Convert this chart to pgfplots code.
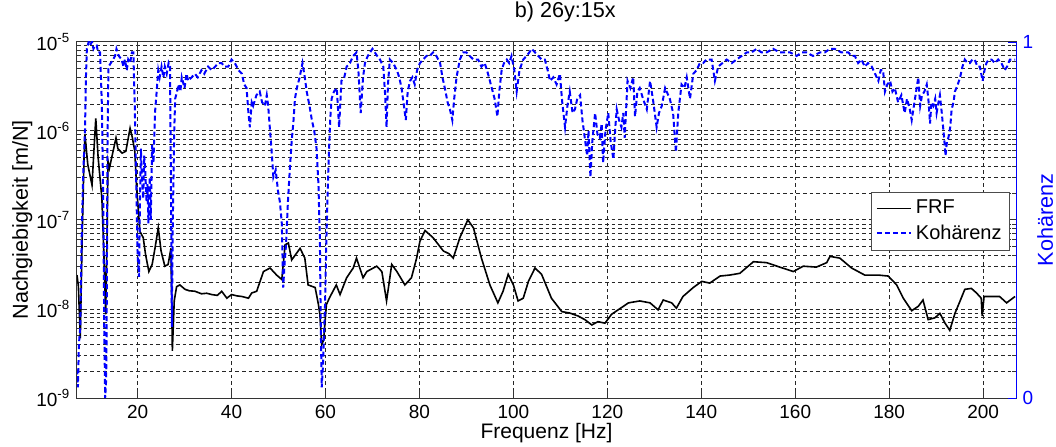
\documentclass[border=0pt]{standalone}
\usepackage{fontspec}
\setmainfont{Liberation Sans}
\usepackage{pgfplots}
\pgfplotsset{compat=1.18}
\begin{document}
\fontsize{9.5}{11}\selectfont
\begin{tikzpicture}
\path[use as bounding box] (-38.5pt,-24pt) rectangle (489.5pt,199pt);
\begin{axis}[
  scale only axis, width=469.5pt, height=178.15pt,
  xmin=7.1, xmax=207, ymode=log, ymin=1e-9, ymax=1e-5,
  xtick={20,40,60,80,100,120,140,160,180,200},
  xticklabels={20,40,60,80,100,120,140,160,180,200},
  ytick={1e-9,1e-8,1e-7,1e-6,1e-5},
  yticklabels={10\textsuperscript{-9},10\textsuperscript{-8},10\textsuperscript{-7},10\textsuperscript{-6},10\textsuperscript{-5}},
  /pgf/number format/assume math mode=true,
  xmajorgrids, ymajorgrids, yminorgrids,
  major grid style={black!85, line width=0.4pt, dash pattern=on 1.8pt off 1.5pt},
  minor grid style={black!85, line width=0.4pt, dash pattern=on 1.8pt off 1.5pt},
  tick align=inside,
  major tick length=4pt, minor tick length=2pt,
  axis line style={black!80, line width=0.5pt},
  tick style={black!80, line width=0.4pt},
  xticklabel style={font=\fontsize{9.5}{11}\selectfont},
  yticklabel style={font=\fontsize{9.5}{11}\selectfont},
  xlabel={Frequenz [Hz]},
  xlabel style={at={(axis description cs:0.5,0)}, anchor=base, yshift=-20pt, font=\fontsize{10.5}{12}\selectfont},
  ylabel={Nachgiebigkeit [m/N]},
  ylabel style={at={(axis description cs:-0.0522,0.5)}, anchor=base, font=\fontsize{10.8}{12}\selectfont},
  title={b) 26y:15x},
  title style={at={(axis description cs:0.52,1)}, anchor=base, yshift=5.9pt, font=\fontsize{10.8}{12}\selectfont},
]
\addplot[black, line width=0.8pt] coordinates {
(7.1,2.40e-8) (7.4,1.78e-8) (7.8,4.68e-9) (8.2,6.31e-8) (8.6,5.01e-7) (8.8,8.91e-7)
(9.4,4.17e-7) (10.3,2.45e-7) (10.7,6.0e-7) (11.1,1.38e-6) (11.6,5.0e-7) (12.4,1.74e-7)
(12.9,3.16e-8) (13.2,8.71e-9) (13.5,6.31e-8) (13.7,4.57e-7) (14.0,3.80e-7)
(15.4,8.32e-7) (15.8,6.31e-7) (16.7,5.62e-7) (17.5,5.89e-7) (18.4,1.07e-6)
(18.9,8.32e-7) (19.4,5.89e-7) (19.8,2.29e-7) (20.5,7.41e-8) (21.2,6.31e-8)
(21.7,4.07e-8) (22.4,2.63e-8) (23.1,3.16e-8) (23.7,4.79e-8) (24.4,8.13e-8)
(25.0,4.47e-8) (25.8,3.02e-8) (26.5,3.16e-8) (27.1,4.79e-8) (27.4,3.39e-9)
(27.8,1.23e-8) (28.3,1.78e-8) (29.0,1.86e-8) (30.1,1.66e-8) (31.0,1.60e-8)
(32.2,1.58e-8) (33.6,1.48e-8) (34.7,1.50e-8) (35.8,1.45e-8) (37.0,1.42e-8)
(37.9,1.58e-8) (39.0,1.32e-8) (40.0,1.45e-8) (41.2,1.40e-8) (42.2,1.38e-8)
(43.6,1.32e-8) (44.3,1.51e-8) (45.35,1.58e-8) (46.8,2.63e-8) (48.2,2.88e-8)
(49.6,2.40e-8) (50.7,2.14e-8) (51.4,5.25e-8) (52.1,5.50e-8) (52.8,3.55e-8)
(54.6,4.79e-8) (55.6,3.72e-8) (56.3,1.86e-8) (57.8,1.74e-8) (58.5,1.12e-8)
(58.8,8.71e-9) (59.2,3.98e-9) (59.6,4.47e-9) (60.2,1.12e-8) (60.9,1.35e-8)
(62.3,1.86e-8) (63.1,1.45e-8) (64.5,2.24e-8) (65.9,2.88e-8) (66.6,3.72e-8)
(67.3,2.88e-8) (68.0,2.24e-8) (68.8,2.63e-8) (70.9,3.02e-8) (72.0,2.63e-8)
(73.0,1.23e-8) (74.1,3.16e-8) (75.2,2.63e-8) (76.9,1.86e-8) (78.3,2.24e-8)
(79.4,3.72e-8) (80.1,5.75e-8) (81.2,7.59e-8) (82.9,6.31e-8) (85.1,4.47e-8)
(86.3,4.17e-8) (87.2,3.72e-8) (88.6,6.31e-8) (90.3,1.00e-7) (91.5,8.13e-8)
(93.2,3.72e-8) (95.0,1.86e-8) (96.7,1.17e-8) (97.8,1.58e-8) (98.9,2.45e-8)
(100.0,1.86e-8) (101.0,1.23e-8) (102.1,1.32e-8) (103.2,2.04e-8) (104.6,2.88e-8)
(106.0,2.45e-8) (108.1,1.32e-8) (110.3,9.33e-9) (112.0,9.0e-9) (113.8,8.32e-9)
(115.2,7.6e-9) (116.7,6.61e-9) (118.0,7.2e-9) (119.5,6.92e-9) (120.9,8.71e-9)
(122.3,9.77e-9) (124.5,1.17e-8) (126.9,1.23e-8) (129.1,1.17e-8) (130.8,9.77e-9)
(131.9,1.26e-8) (133.7,1.17e-8) (134.7,1.02e-8) (136.1,1.38e-8) (138.3,1.74e-8)
(140.1,2.04e-8) (141.8,1.95e-8) (144.0,2.34e-8) (146.0,2.40e-8) (148.2,2.51e-8)
(151.1,3.39e-8) (153.9,3.31e-8) (156.7,2.95e-8) (159.6,2.63e-8) (161.7,3.02e-8)
(164.5,2.95e-8) (166.7,3.31e-8) (167.4,3.89e-8) (169.5,3.72e-8) (172.0,2.88e-8)
(174.8,2.40e-8) (177.7,2.40e-8) (179.8,2.34e-8) (181.6,1.86e-8) (183.0,1.32e-8)
(184.8,9.55e-9) (186.2,1.07e-8) (187.2,1.26e-8) (188.3,7.59e-9) (189.7,7.94e-9)
(190.8,8.91e-9) (191.9,6.92e-9) (192.9,5.75e-9) (194.0,8.91e-9) (195.1,1.23e-8)
(196.1,1.66e-8) (197.5,1.70e-8) (198.6,1.51e-8) (199.6,1.32e-8) (199.8,8.32e-9)
(200.2,1.38e-8) (201.8,1.38e-8) (203.5,1.38e-8) (205.0,1.17e-8) (206.8,1.38e-8)
};
\end{axis}
\begin{axis}[
  scale only axis, width=469.5pt, height=178.15pt,
  xmin=7.1, xmax=207, ymin=0, ymax=1,
  axis x line=none, axis y line*=right,
  ytick={0,1}, yticklabels={0,1},
  tick align=inside, major tick length=4pt,
  y axis line style={blue, line width=0.5pt},
  ytick style={blue},
  yticklabel style={blue, font=\fontsize{9.5}{11}\selectfont},
  ylabel={Kohärenz},
  ylabel style={blue, at={(axis description cs:1.0394,0.5)}, anchor=base, font=\fontsize{10.8}{12}\selectfont},
  legend style={at={(axis description cs:0.9936,0.579)}, anchor=north east, draw=black!70, fill=white, font=\fontsize{10}{12}\selectfont, cells={anchor=west}, inner sep=2pt},
]
\addlegendimage{black, solid, line width=0.8pt}
\addlegendentry{FRF}
\addlegendimage{blue, line width=1pt, dash pattern=on 2.5pt off 1.5pt}
\addlegendentry{Kohärenz}
\addplot[blue, line width=1pt, dash pattern=on 2.5pt off 1.5pt, forget plot] coordinates {
(7.1,0.08) (7.3,0.03) (7.5,0.15) (7.8,0.20) (8.1,0.45) (8.4,0.62) (8.8,0.75) (9.0,0.90)
(9.2,0.98) (9.6,1.0) (9.9,0.99) (10.3,1.0) (10.6,0.98) (11.0,0.99) (11.3,0.99) (11.6,0.97)
(12.0,0.97) (12.2,0.9) (12.4,0.82) (12.7,0.54) (12.9,0.2) (13.1,0.0) (13.3,0.05) (13.4,0.17)
(13.6,0.73) (13.8,0.93) (14.3,0.94) (14.8,0.95) (15.2,0.96) (15.5,0.98) (16.0,0.96) (16.6,0.95)
(17.0,0.93) (17.3,0.95) (17.7,0.92) (18.0,0.95) (18.4,0.94) (18.8,0.97) (19.1,0.97) (19.4,0.82)
(19.8,0.54) (20.0,0.40) (20.3,0.34) (20.5,0.55) (20.7,0.70) (20.9,0.62) (21.2,0.56) (21.4,0.68)
(21.6,0.65) (21.9,0.55) (22.1,0.60) (22.3,0.49) (22.6,0.62) (22.8,0.50) (23.1,0.71) (23.4,0.66)
(23.7,0.80) (24.0,0.85) (24.4,0.92) (24.7,0.90) (25.1,0.93) (25.5,0.90) (25.8,0.93) (26.2,0.91)
(26.6,0.94) (26.9,0.93) (27.1,0.6) (27.3,0.2) (27.5,0.5) (27.8,0.75) (28.0,0.84) (28.4,0.86)
(28.7,0.88) (29.1,0.86) (29.4,0.90) (30.0,0.87) (30.4,0.91) (30.8,0.89) (31.5,0.90) (32.2,0.91)
(32.8,0.90) (33.6,0.92) (34.2,0.91) (35.0,0.93) (35.8,0.92) (36.5,0.93) (37.2,0.94) (37.9,0.94)
(38.5,0.93) (39.3,0.93) (40.0,0.95) (40.7,0.94) (41.5,0.92) (42.2,0.91) (42.7,0.88) (43.2,0.87)
(43.6,0.80) (43.9,0.76) (44.3,0.83) (44.6,0.82) (45.3,0.85) (46.0,0.86) (46.5,0.83) (47.1,0.82)
(47.5,0.85) (47.8,0.82) (48.2,0.75) (48.5,0.70) (48.9,0.62) (49.4,0.64) (49.9,0.58) (50.3,0.55)
(50.7,0.49) (51.0,0.31) (51.3,0.38) (51.6,0.43) (52.0,0.55) (52.4,0.64) (52.8,0.72) (53.2,0.78)
(53.5,0.84) (53.9,0.87) (54.5,0.90) (55.1,0.94) (55.6,0.90) (56.0,0.86) (56.6,0.82) (57.1,0.78)
(57.6,0.75) (58.1,0.70) (58.5,0.60) (58.8,0.45) (59.0,0.2) (59.2,0.03) (59.5,0.10) (59.9,0.26)
(60.2,0.45) (60.6,0.64) (61.0,0.78) (61.3,0.84) (61.8,0.86) (62.4,0.87) (62.9,0.76) (63.4,0.89)
(64.0,0.90) (64.5,0.93) (65.2,0.94) (65.9,0.96) (66.6,0.97) (67.0,0.92) (67.5,0.80) (68.0,0.90)
(68.4,0.94) (69.0,0.96) (69.5,0.97) (70.0,0.98) (70.5,0.97) (71.0,0.96) (71.6,0.95) (72.3,0.93)
(72.7,0.85) (73.0,0.76) (73.3,0.88) (73.7,0.95) (74.4,0.94) (75.2,0.92) (75.7,0.90) (76.2,0.87)
(76.7,0.82) (77.1,0.78) (77.5,0.86) (78.0,0.89) (78.5,0.90) (79.0,0.88) (79.5,0.92) (80.1,0.94)
(80.8,0.95) (81.5,0.96) (82.2,0.96) (82.9,0.97) (83.6,0.96) (84.4,0.94) (84.9,0.90) (85.4,0.87)
(86.0,0.83) (86.5,0.81) (87.0,0.78) (87.4,0.84) (87.9,0.90) (88.6,0.95) (89.3,0.97) (90.0,0.97)
(90.7,0.96) (91.5,0.95) (92.5,0.95) (93.2,0.93) (93.9,0.94) (94.6,0.91) (95.4,0.87) (96.0,0.84)
(96.6,0.79) (97.0,0.86) (97.5,0.92) (98.0,0.94) (98.6,0.95) (99.1,0.94) (99.6,0.96) (100.2,0.92)
(100.7,0.86) (101.3,0.92) (102.1,0.95) (102.8,0.96) (103.4,0.97) (103.9,0.98) (104.6,0.97) (105.3,0.96)
(106.0,0.95) (106.7,0.95) (107.3,0.92) (107.8,0.89) (108.5,0.90) (109.2,0.88) (109.9,0.91) (110.4,0.83)
(111.0,0.76) (111.5,0.82) (112.0,0.86) (112.6,0.80) (113.1,0.81) (113.6,0.84) (114.2,0.85) (114.7,0.78)
(115.2,0.73) (115.7,0.68) (116.0,0.75) (116.4,0.62) (116.8,0.72) (117.4,0.80) (117.9,0.74) (118.4,0.73)
(118.8,0.77) (119.1,0.66) (119.6,0.75) (120.2,0.80) (120.7,0.72) (121.3,0.67) (121.7,0.76) (122.0,0.81)
(122.5,0.78) (123.0,0.76) (123.4,0.80) (123.7,0.73) (124.3,0.89) (124.9,0.87) (125.5,0.90) (125.9,0.79)
(126.4,0.86) (126.9,0.87) (127.6,0.84) (128.4,0.81) (129.1,0.89) (129.8,0.83) (130.5,0.76) (131.0,0.80)
(131.6,0.82) (132.3,0.87) (133.3,0.84) (134.0,0.80) (134.6,0.69) (135.1,0.80) (135.8,0.88) (136.4,0.87)
(136.9,0.90) (137.6,0.84) (138.3,0.91) (139.0,0.92) (139.7,0.94) (140.4,0.94) (141.1,0.95) (142.2,0.95)
(142.9,0.89) (143.6,0.93) (144.5,0.94) (145.4,0.95) (146.5,0.94) (147.5,0.95) (148.6,0.96) (149.7,0.97)
(150.7,0.97) (151.8,0.98) (152.8,0.97) (153.9,0.97) (155.3,0.98) (156.7,0.97) (157.8,0.97) (158.9,0.97)
(160.3,0.96) (161.4,0.97) (162.4,0.97) (163.8,0.96) (165.3,0.97) (166.3,0.97) (167.4,0.98) (168.4,0.98)
(169.8,0.97) (171.3,0.97) (172.0,0.96) (172.7,0.96) (173.4,0.94) (174.1,0.95) (174.8,0.93) (175.5,0.94)
(176.3,0.93) (177.0,0.91) (177.7,0.89) (178.2,0.92) (178.7,0.92) (179.1,0.86) (179.6,0.88) (180.2,0.89)
(180.7,0.86) (181.2,0.87) (181.9,0.83) (182.6,0.85) (183.3,0.80) (183.8,0.84) (184.4,0.81) (184.8,0.78)
(185.5,0.84) (186.2,0.90) (186.6,0.82) (187.0,0.85) (187.5,0.86) (188.0,0.88) (188.4,0.83) (188.7,0.77)
(189.0,0.83) (189.4,0.82) (189.8,0.84) (190.1,0.80) (190.5,0.83) (190.8,0.85) (191.2,0.80) (191.7,0.73)
(192.0,0.68) (192.3,0.72) (192.6,0.73) (193.0,0.76) (193.3,0.81) (193.7,0.83) (194.0,0.86) (194.6,0.88)
(195.1,0.90) (195.6,0.93) (196.1,0.95) (196.7,0.94) (197.2,0.94) (197.7,0.95) (198.2,0.95) (198.8,0.93)
(199.3,0.93) (199.9,0.89) (200.3,0.92) (200.7,0.94) (201.2,0.95) (201.8,0.95) (202.5,0.94) (203.2,0.95)
(203.9,0.94) (204.6,0.92) (205.1,0.93) (205.7,0.95) (206.3,0.95) (206.8,0.95)
};
\end{axis}
\end{tikzpicture}
\end{document}
